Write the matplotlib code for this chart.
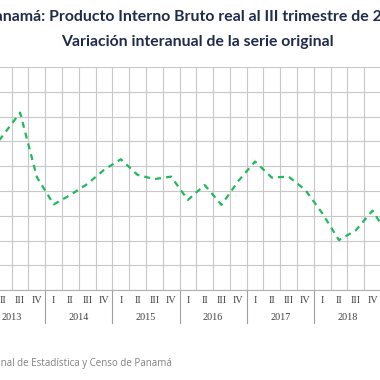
import matplotlib.pyplot as plt
from matplotlib import transforms

# trimestres 2013-I .. 2019-III (la imagen muestra solo un recorte)
years = ['2013', '2014', '2015', '2016', '2017', '2018', '2019']
quarters = ['I', 'II', 'III', 'IV']
variacion = [6.41, 7.26, 8.16, 5.56,
             4.46, 4.84, 5.28, 5.85,
             6.28, 5.65, 5.48, 5.58,
             4.64, 5.24, 4.44, 5.40,
             6.19, 5.54, 5.58, 5.04,
             4.11, 3.02, 3.41, 4.21,
             3.15, 3.00, 3.30]

n = len(variacion)
x = list(range(n))
qlabels = [quarters[i % 4] for i in x]

fig = plt.figure(figsize=(3.8, 3.8), dpi=100)
# axes wider than the figure, so the picture is cropped on both sides
ax = fig.add_axes([-21.86 / 380, 89.8 / 380, 453.1 / 380, 223.2 / 380])

ax.plot(x, variacion, color='#22b85c', lw=1.6, linestyle=(0, (2.7, 2.3)),
        solid_capstyle='butt', zorder=3)

ax.set_xlim(-0.5, n - 0.5)
ax.set_ylim(1, 10)
ax.set_yticks(range(1, 11))
ax.set_xticks([i + 0.5 for i in range(n - 1)], minor=True)
ax.set_xticks(x)
ax.set_xticklabels(qlabels, fontfamily='Liberation Serif', fontsize=7.3, color='#404040')
ax.tick_params(axis='x', which='both', length=0, pad=4)
ax.tick_params(axis='y', left=False, labelleft=False)
ax.grid(True, axis='y', color='#c8c8c8', lw=0.8)
ax.grid(True, axis='x', which='minor', color='#c8c8c8', lw=0.8)
for s in ['left', 'right', 'top']:
    ax.spines[s].set_visible(False)
ax.spines['bottom'].set_color('#b0b0b0')
ax.spines['bottom'].set_linewidth(0.8)

trans = transforms.blended_transform_factory(ax.transData, ax.transAxes)
for k, yr in enumerate(years):
    c = 4 * k + 1.5
    ax.text(c, -0.122, yr, transform=trans, ha='center', va='center',
            fontfamily='Liberation Serif', fontsize=7.3, color='#404040')
    if k > 0:
        ax.plot([4 * k - 0.5, 4 * k - 0.5], [0, -0.148], transform=trans,
                color='#a0a0a0', lw=0.8, clip_on=False)

fig.text(197.5 / 380, 1 - 16.7 / 380,
         'Panamá: Producto Interno Bruto real al III trimestre de 2019',
         ha='center', va='center', fontfamily='Lato', fontweight='bold',
         fontsize=11.4, color='#1f2b4a')
fig.text(197.5 / 380, 1 - 41.7 / 380, 'Variación interanual de la serie original',
         ha='center', va='center', fontfamily='Lato', fontweight='bold',
         fontsize=11.3, color='#1f2b4a')
fig.text(172 / 380, 1 - 363.3 / 380,
         'Fuente: Instituto Nacional de Estadística y Censo de Panamá',
         ha='right', va='center', fontfamily='Open Sans', fontsize=7, color='#808080')

fig.savefig('out.png', dpi=100)
